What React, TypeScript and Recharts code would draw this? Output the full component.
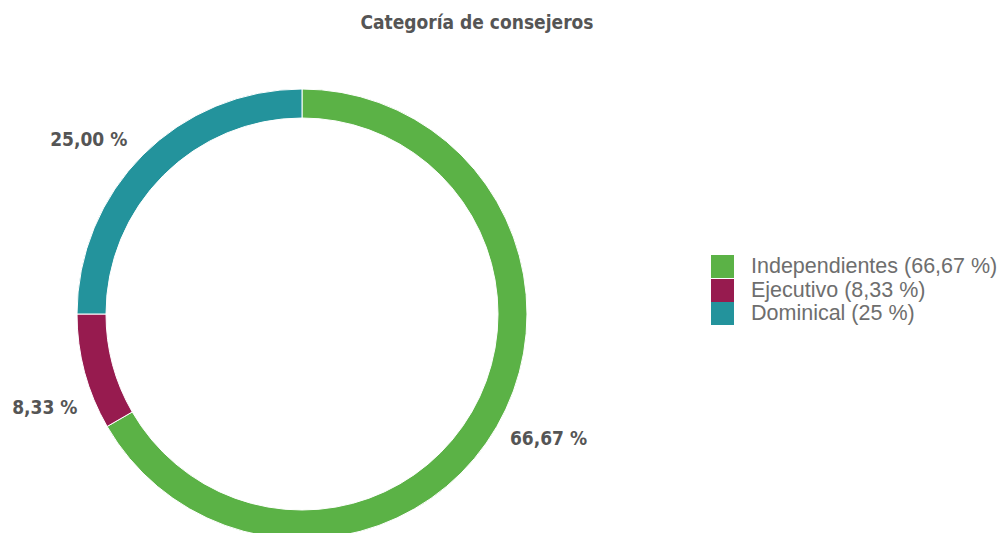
import { PieChart, Pie, Cell, Legend } from "recharts";

const categories = ["Independientes", "Ejecutivo", "Dominical"];
const values = [66.67, 8.33, 25];
const sliceLabels = ["66,67 %", "8,33 %", "25,00 %"];
const legendLabels = ["Independientes (66,67 %)", "Ejecutivo (8,33 %)", "Dominical (25 %)"];
const colors = ["#5bb246", "#971b4f", "#23939c"];

const data = categories.map((name, i) => ({ name, value: values[i], label: sliceLabels[i], legend: legendLabels[i] }));

const RAD = Math.PI / 180;

function renderLabel(props: any) {
    const { cx, cy, midAngle, outerRadius, index } = props;
    const r = outerRadius + 22;
    const x = cx + r * Math.cos(-midAngle * RAD);
    const y = cy + r * Math.sin(-midAngle * RAD);
    const right = x > cx;
    // the small left slice label sits lower and further in, in the original
    const lowLeft = !right && y > cy;
    return (
        <text
            x={right ? x - 6 : lowLeft ? x + 14 : x}
            y={lowLeft ? y + 29 : y}
            textAnchor={right ? "start" : "end"}
            dominantBaseline="central"
            fill="#555"
            fontFamily="'DejaVu Sans Condensed', 'DejaVu Sans', sans-serif"
            fontWeight="bold"
            fontSize={19}
        >
            {sliceLabels[index]}
        </text>
    );
}

function LegendBox() {
    return (
        <div>
            {data.map((d, i) => (
                <div key={d.name} style={{ display: "flex", alignItems: "center", height: 23.5 }}>
                    <div style={{ width: 23, height: 23, background: colors[i], marginRight: 17 }} />
                    <span style={{ fontFamily: "'Liberation Sans', Arial, sans-serif", fontSize: 21.5, color: "#6e6e6e", lineHeight: "23px" }}>
                        {d.legend}
                    </span>
                </div>
            ))}
        </div>
    );
}

export default function App() {
    return (
        <div style={{ position: "absolute", left: 0, top: 0, width: 1001, height: 533, background: "#fff", overflow: "hidden" }}>
            <div
                style={{
                    position: "absolute",
                    left: 0,
                    width: 954,
                    top: 11,
                    textAlign: "center",
                    fontFamily: "'DejaVu Sans Condensed', 'DejaVu Sans', sans-serif",
                    fontWeight: "bold",
                    fontSize: 19,
                    color: "#555",
                }}
            >
                Categoría de consejeros
            </div>
            <PieChart width={1001} height={533}>
                <Pie
                    data={data}
                    dataKey="value"
                    nameKey="name"
                    cx={297}
                    cy={309}
                    innerRadius={196}
                    outerRadius={225}
                    startAngle={90}
                    endAngle={-270}
                    stroke="#fff"
                    strokeWidth={1}
                    label={renderLabel}
                    labelLine={false}
                    isAnimationActive={false}
                >
                    {data.map((_, index) => (
                        <Cell key={`cell-${index}`} fill={colors[index]} />
                    ))}
                </Pie>
                <Legend
                    content={() => <LegendBox />}
                    wrapperStyle={{ position: "absolute", left: 711, top: 255, width: 290 }}
                />
            </PieChart>
        </div>
    );
}
